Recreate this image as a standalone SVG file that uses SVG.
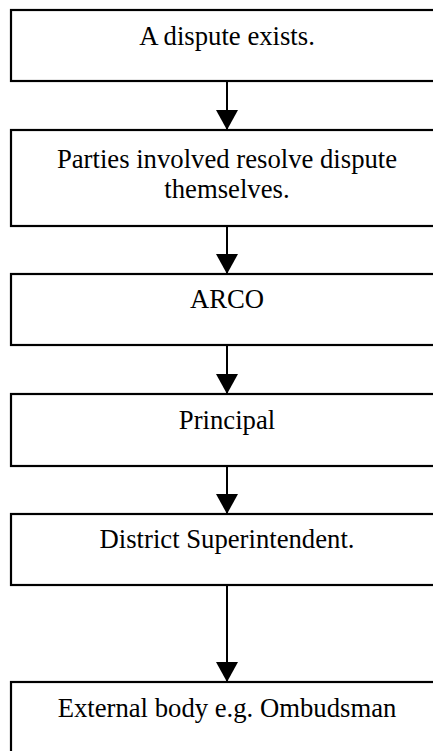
<svg xmlns="http://www.w3.org/2000/svg" width="433" height="751" viewBox="0 0 433 751">
<defs>
<marker id="ah" markerUnits="userSpaceOnUse" markerWidth="22" markerHeight="22" viewBox="0 0 22 22" refX="20" refY="11" orient="auto">
<path d="M0,0 L20,11 L0,22 Z" fill="#000"/>
</marker>
<style>
.box{fill:#fff;stroke:#000;stroke-width:2.2}
.lbl{font-family:"Liberation Serif","Times New Roman",serif;font-size:26.7px;fill:#000;text-anchor:middle}
.con{stroke:#000;stroke-width:2;fill:none;marker-end:url(#ah)}
</style>
</defs>
<rect width="433" height="751" fill="#fff"/>
<g id="connectors">
<line class="con" x1="227" y1="81" x2="227" y2="130"/>
<line class="con" x1="227" y1="226" x2="227" y2="274"/>
<line class="con" x1="227" y1="345" x2="227" y2="394"/>
<line class="con" x1="227" y1="466" x2="227" y2="514"/>
<line class="con" x1="227" y1="585" x2="227" y2="682"/>
</g>
<g id="n1"><rect class="box" x="11" y="10" width="432" height="71"/><text class="lbl" x="227" y="45">A dispute exists.</text></g>
<g id="n2"><rect class="box" x="11" y="130" width="432" height="96"/><text class="lbl" x="227" y="168">Parties involved resolve dispute</text><text class="lbl" x="227" y="198">themselves.</text></g>
<g id="n3"><rect class="box" x="11" y="274" width="432" height="71"/><text class="lbl" x="227" y="308">ARCO</text></g>
<g id="n4"><rect class="box" x="11" y="394" width="432" height="72"/><text class="lbl" x="227" y="429">Principal</text></g>
<g id="n5"><rect class="box" x="11" y="514" width="432" height="71"/><text class="lbl" x="227" y="548">District Superintendent.</text></g>
<g id="n6"><rect class="box" x="11" y="682" width="432" height="120"/><text class="lbl" x="227" y="717">External body e.g. Ombudsman</text></g>
</svg>
